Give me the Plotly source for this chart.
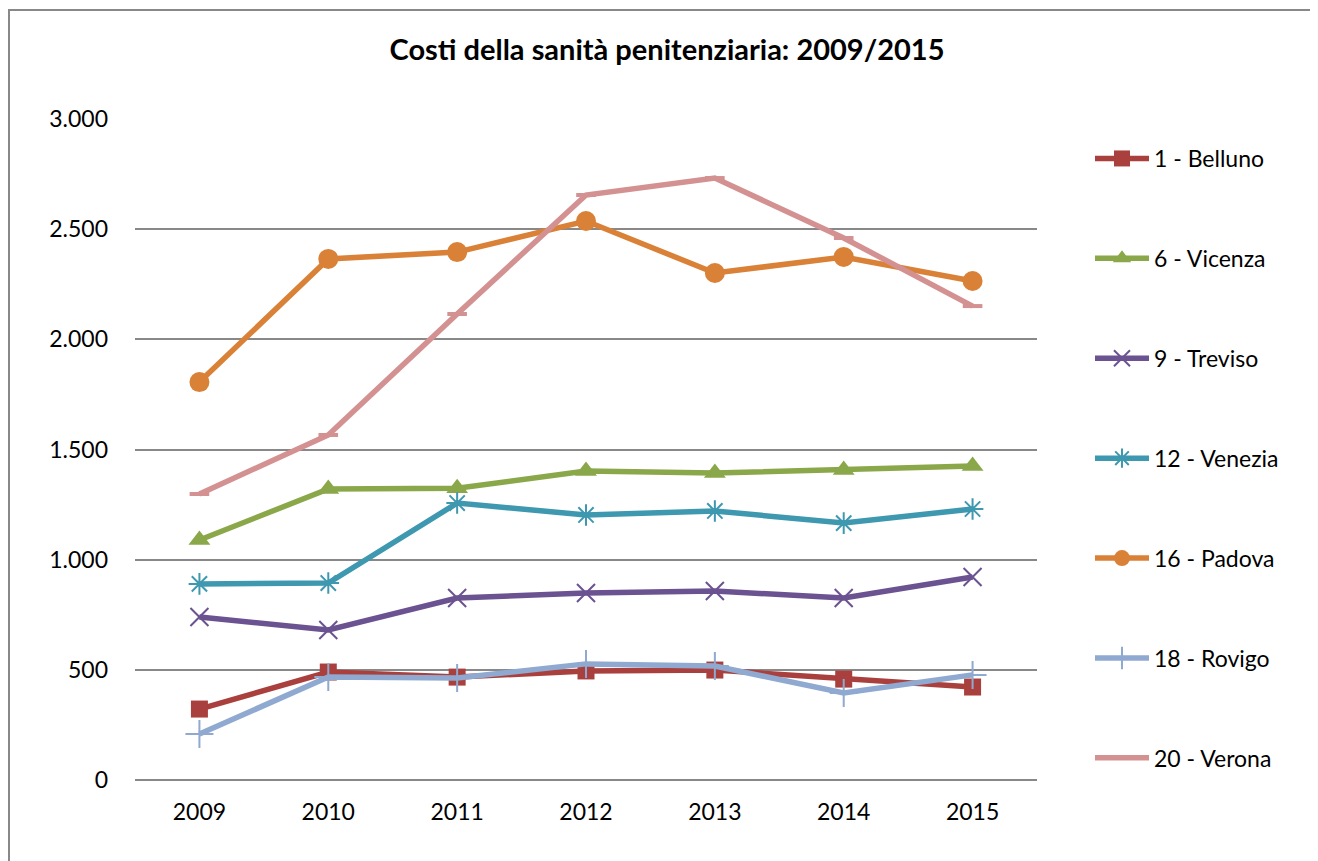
import plotly.graph_objects as go

years = ["2009", "2010", "2011", "2012", "2013", "2014", "2015"]
belluno = [322, 490, 467, 495, 499, 458, 422]
vicenza = [1089, 1321, 1324, 1402, 1393, 1407, 1425]
treviso = [740, 681, 826, 849, 858, 826, 921]
venezia = [890, 894, 1257, 1203, 1221, 1166, 1230]
padova = [1806, 2365, 2396, 2537, 2301, 2374, 2265]
rovigo = [209, 467, 463, 527, 517, 395, 477]
verona = [1298, 1566, 2115, 2655, 2732, 2460, 2151]

series_names = ["1 - Belluno", "6 - Vicenza", "9 - Treviso", "12 - Venezia",
                "16 - Padova", "18 - Rovigo", "20 - Verona"]
series_values = [belluno, vicenza, treviso, venezia, padova, rovigo, verona]
colors = ["#A9403D", "#8AA84A", "#6B5290", "#3E98AF", "#DA8138", "#8FA9D0", "#D49191"]
symbols = ["square", "triangle-up", "x-thin", "asterisk", "circle", "cross-thin", "line-ew"]
sizes = [17, 19, 18, 18, 20, 20, 14]

FONT = "Lato"
# page body has an 8px margin; figure is placed at (8, 8)
OFF = 8
W, H = 1318 - OFF, 861 - OFF
PL, PT = 135 - OFF, 119 - OFF
PW, PH = 902, 661

fig = go.Figure()
for i, (name, vals) in enumerate(zip(series_names, series_values)):
    sym = symbols[i]
    thin = sym in ("x-thin", "asterisk", "cross-thin", "line-ew")
    marker = dict(symbol=sym, size=sizes[i], color=colors[i])
    if thin:
        marker["line"] = dict(color=colors[i], width=2 if sym != "line-ew" else 4)
    fig.add_trace(go.Scatter(
        x=years, y=vals, name=name, mode="lines+markers",
        line=dict(color=colors[i], width=5.5),
        marker=marker, legendgroup=name,
    ))

fig.update_layout(
    width=W, height=H,
    margin=dict(l=PL, r=W - PL - PW, t=PT, b=H - PT - PH),
    paper_bgcolor="white", plot_bgcolor="white",
    font=dict(family=FONT, size=23, color="#000000"),
    title=dict(text="<b>Costi della sanità penitenziaria: 2009/2015</b>",
               x=(667 - OFF) / W, xanchor="center", y=1 - (50 - OFF) / H, yanchor="middle",
               font=dict(family=FONT, size=29, color="#000000")),
    showlegend=True,
    legend=dict(x=(1090 - 135) / PW, xanchor="left", y=(780 - 137) / PH, yanchor="top",
                tracegroupgap=67, font=dict(family=FONT, size=23),
                bgcolor="rgba(0,0,0,0)", itemwidth=54),
    xaxis=dict(type="category", range=[-0.5, 6.5], showgrid=False,
               showline=False, ticks="", tickfont=dict(size=23),
               ticklabelstandoff=16),
    yaxis=dict(range=[0, 3000], tickvals=[0, 500, 1000, 1500, 2000, 2500, 3000],
               ticktext=["0", "500", "1.000", "1.500", "2.000", "2.500", "3.000"],
               showgrid=True, gridcolor="#888888", gridwidth=2, zeroline=True,
               zerolinecolor="#888888", zerolinewidth=2, showline=False,
               ticks="", tickfont=dict(size=23), ticklabelstandoff=26),
)

# outer chart frame
fig.add_shape(type="rect", xref="paper", yref="paper",
              x0=(9 - 135) / PW, x1=(1330 - 135) / PW,
              y0=(780 - 880) / PH, y1=(780 - 10) / PH,
              line=dict(color="#888888", width=2), fillcolor="rgba(0,0,0,0)",
              layer="below")

fig.write_html("out.html")
